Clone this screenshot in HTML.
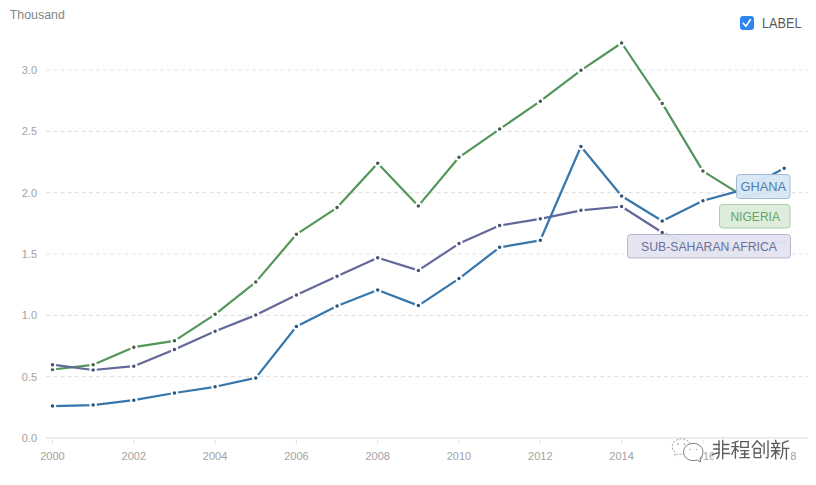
<!DOCTYPE html>
<html><head><meta charset="utf-8"><style>
html,body{margin:0;padding:0;background:#fff;width:816px;height:485px;overflow:hidden}
svg{display:block}
text{font-family:"Liberation Sans",sans-serif}
.tk{font-size:11px;fill:#a6a6a6;stroke:#a6a6a6;stroke-width:0.08px}
</style></head><body>
<svg width="816" height="485" viewBox="0 0 816 485">
<rect width="816" height="485" fill="#fff"/>
<text x="9.8" y="19.3" textLength="55" lengthAdjust="spacingAndGlyphs" style="font-size:12.3px;fill:#858585">Thousand</text>
<line x1="46" y1="376.67" x2="808" y2="376.67" stroke="#e2e2e2" stroke-width="1.2" stroke-dasharray="3.8,3.3" stroke-dashoffset="-0.3"/>
<line x1="46" y1="315.33" x2="808" y2="315.33" stroke="#e2e2e2" stroke-width="1.2" stroke-dasharray="3.8,3.3" stroke-dashoffset="-0.3"/>
<line x1="46" y1="254.00" x2="808" y2="254.00" stroke="#e2e2e2" stroke-width="1.2" stroke-dasharray="3.8,3.3" stroke-dashoffset="-0.3"/>
<line x1="46" y1="192.66" x2="808" y2="192.66" stroke="#e2e2e2" stroke-width="1.2" stroke-dasharray="3.8,3.3" stroke-dashoffset="-0.3"/>
<line x1="46" y1="131.32" x2="808" y2="131.32" stroke="#e2e2e2" stroke-width="1.2" stroke-dasharray="3.8,3.3" stroke-dashoffset="-0.3"/>
<line x1="46" y1="69.99" x2="808" y2="69.99" stroke="#e2e2e2" stroke-width="1.2" stroke-dasharray="3.8,3.3" stroke-dashoffset="-0.3"/>

<line x1="46" y1="437.9" x2="808" y2="437.9" stroke="#ebebeb" stroke-width="1.9"/>
<text x="37" y="442.00" text-anchor="end" class="tk">0.0</text>
<text x="37" y="380.67" text-anchor="end" class="tk">0.5</text>
<text x="37" y="319.33" text-anchor="end" class="tk">1.0</text>
<text x="37" y="258.00" text-anchor="end" class="tk">1.5</text>
<text x="37" y="196.66" text-anchor="end" class="tk">2.0</text>
<text x="37" y="135.32" text-anchor="end" class="tk">2.5</text>
<text x="37" y="73.99" text-anchor="end" class="tk">3.0</text>

<line x1="52.50" y1="440" x2="52.50" y2="444" stroke="#e0e0e0" stroke-width="1"/>
<text x="52.50" y="460.3" text-anchor="middle" class="tk">2000</text>
<line x1="133.80" y1="440" x2="133.80" y2="444" stroke="#e0e0e0" stroke-width="1"/>
<text x="133.80" y="460.3" text-anchor="middle" class="tk">2002</text>
<line x1="215.10" y1="440" x2="215.10" y2="444" stroke="#e0e0e0" stroke-width="1"/>
<text x="215.10" y="460.3" text-anchor="middle" class="tk">2004</text>
<line x1="296.40" y1="440" x2="296.40" y2="444" stroke="#e0e0e0" stroke-width="1"/>
<text x="296.40" y="460.3" text-anchor="middle" class="tk">2006</text>
<line x1="377.70" y1="440" x2="377.70" y2="444" stroke="#e0e0e0" stroke-width="1"/>
<text x="377.70" y="460.3" text-anchor="middle" class="tk">2008</text>
<line x1="459.00" y1="440" x2="459.00" y2="444" stroke="#e0e0e0" stroke-width="1"/>
<text x="459.00" y="460.3" text-anchor="middle" class="tk">2010</text>
<line x1="540.30" y1="440" x2="540.30" y2="444" stroke="#e0e0e0" stroke-width="1"/>
<text x="540.30" y="460.3" text-anchor="middle" class="tk">2012</text>
<line x1="621.60" y1="440" x2="621.60" y2="444" stroke="#e0e0e0" stroke-width="1"/>
<text x="621.60" y="460.3" text-anchor="middle" class="tk">2014</text>
<line x1="702.90" y1="440" x2="702.90" y2="444" stroke="#e0e0e0" stroke-width="1"/>
<text x="702.90" y="460.3" text-anchor="middle" class="tk">2016</text>
<line x1="784.20" y1="440" x2="784.20" y2="444" stroke="#e0e0e0" stroke-width="1"/>
<text x="784.20" y="460.3" text-anchor="middle" class="tk">2018</text>

<polyline points="52.50,369.50 93.15,364.80 133.80,347.20 174.45,340.80 215.10,314.30 255.75,282.10 296.40,234.30 337.05,207.60 377.70,163.30 418.35,205.90 459.00,157.30 499.65,129.10 540.30,101.20 580.95,70.30 621.60,43.00 662.25,103.40 702.90,171.10 743.55,196.40 784.20,189.00" fill="none" stroke="#52965a" stroke-width="2.2" stroke-linejoin="round" stroke-linecap="round"/>
<circle cx="52.50" cy="369.50" r="2.75" fill="#4a5a4c" stroke="#fff" stroke-width="2.0"/><circle cx="93.15" cy="364.80" r="2.75" fill="#4a5a4c" stroke="#fff" stroke-width="2.0"/><circle cx="133.80" cy="347.20" r="2.75" fill="#4a5a4c" stroke="#fff" stroke-width="2.0"/><circle cx="174.45" cy="340.80" r="2.75" fill="#4a5a4c" stroke="#fff" stroke-width="2.0"/><circle cx="215.10" cy="314.30" r="2.75" fill="#4a5a4c" stroke="#fff" stroke-width="2.0"/><circle cx="255.75" cy="282.10" r="2.75" fill="#4a5a4c" stroke="#fff" stroke-width="2.0"/><circle cx="296.40" cy="234.30" r="2.75" fill="#4a5a4c" stroke="#fff" stroke-width="2.0"/><circle cx="337.05" cy="207.60" r="2.75" fill="#4a5a4c" stroke="#fff" stroke-width="2.0"/><circle cx="377.70" cy="163.30" r="2.75" fill="#4a5a4c" stroke="#fff" stroke-width="2.0"/><circle cx="418.35" cy="205.90" r="2.75" fill="#4a5a4c" stroke="#fff" stroke-width="2.0"/><circle cx="459.00" cy="157.30" r="2.75" fill="#4a5a4c" stroke="#fff" stroke-width="2.0"/><circle cx="499.65" cy="129.10" r="2.75" fill="#4a5a4c" stroke="#fff" stroke-width="2.0"/><circle cx="540.30" cy="101.20" r="2.75" fill="#4a5a4c" stroke="#fff" stroke-width="2.0"/><circle cx="580.95" cy="70.30" r="2.75" fill="#4a5a4c" stroke="#fff" stroke-width="2.0"/><circle cx="621.60" cy="43.00" r="2.75" fill="#4a5a4c" stroke="#fff" stroke-width="2.0"/><circle cx="662.25" cy="103.40" r="2.75" fill="#4a5a4c" stroke="#fff" stroke-width="2.0"/><circle cx="702.90" cy="171.10" r="2.75" fill="#4a5a4c" stroke="#fff" stroke-width="2.0"/><circle cx="743.55" cy="196.40" r="2.75" fill="#4a5a4c" stroke="#fff" stroke-width="2.0"/><circle cx="784.20" cy="189.00" r="2.75" fill="#4a5a4c" stroke="#fff" stroke-width="2.0"/>

<polyline points="52.50,364.70 93.15,370.00 133.80,366.20 174.45,349.40 215.10,331.20 255.75,315.10 296.40,295.10 337.05,276.30 377.70,257.80 418.35,270.40 459.00,243.60 499.65,225.50 540.30,218.80 580.95,210.30 621.60,206.50 662.25,232.50 702.90,251.50 743.55,246.50 784.20,242.00" fill="none" stroke="#62699a" stroke-width="2.2" stroke-linejoin="round" stroke-linecap="round"/>
<circle cx="52.50" cy="364.70" r="2.75" fill="#4a5072" stroke="#fff" stroke-width="2.0"/><circle cx="93.15" cy="370.00" r="2.75" fill="#4a5072" stroke="#fff" stroke-width="2.0"/><circle cx="133.80" cy="366.20" r="2.75" fill="#4a5072" stroke="#fff" stroke-width="2.0"/><circle cx="174.45" cy="349.40" r="2.75" fill="#4a5072" stroke="#fff" stroke-width="2.0"/><circle cx="215.10" cy="331.20" r="2.75" fill="#4a5072" stroke="#fff" stroke-width="2.0"/><circle cx="255.75" cy="315.10" r="2.75" fill="#4a5072" stroke="#fff" stroke-width="2.0"/><circle cx="296.40" cy="295.10" r="2.75" fill="#4a5072" stroke="#fff" stroke-width="2.0"/><circle cx="337.05" cy="276.30" r="2.75" fill="#4a5072" stroke="#fff" stroke-width="2.0"/><circle cx="377.70" cy="257.80" r="2.75" fill="#4a5072" stroke="#fff" stroke-width="2.0"/><circle cx="418.35" cy="270.40" r="2.75" fill="#4a5072" stroke="#fff" stroke-width="2.0"/><circle cx="459.00" cy="243.60" r="2.75" fill="#4a5072" stroke="#fff" stroke-width="2.0"/><circle cx="499.65" cy="225.50" r="2.75" fill="#4a5072" stroke="#fff" stroke-width="2.0"/><circle cx="540.30" cy="218.80" r="2.75" fill="#4a5072" stroke="#fff" stroke-width="2.0"/><circle cx="580.95" cy="210.30" r="2.75" fill="#4a5072" stroke="#fff" stroke-width="2.0"/><circle cx="621.60" cy="206.50" r="2.75" fill="#4a5072" stroke="#fff" stroke-width="2.0"/><circle cx="662.25" cy="232.50" r="2.75" fill="#4a5072" stroke="#fff" stroke-width="2.0"/><circle cx="702.90" cy="251.50" r="2.75" fill="#4a5072" stroke="#fff" stroke-width="2.0"/><circle cx="743.55" cy="246.50" r="2.75" fill="#4a5072" stroke="#fff" stroke-width="2.0"/><circle cx="784.20" cy="242.00" r="2.75" fill="#4a5072" stroke="#fff" stroke-width="2.0"/>

<polyline points="52.50,406.10 93.15,405.10 133.80,400.20 174.45,393.00 215.10,386.80 255.75,377.90 296.40,326.50 337.05,306.10 377.70,290.00 418.35,305.60 459.00,278.60 499.65,247.30 540.30,240.30 580.95,146.50 621.60,196.00 662.25,221.00 702.90,200.80 743.55,189.60 784.20,168.20" fill="none" stroke="#3676ab" stroke-width="2.2" stroke-linejoin="round" stroke-linecap="round"/>
<circle cx="52.50" cy="406.10" r="2.75" fill="#2a5578" stroke="#fff" stroke-width="2.0"/><circle cx="93.15" cy="405.10" r="2.75" fill="#2a5578" stroke="#fff" stroke-width="2.0"/><circle cx="133.80" cy="400.20" r="2.75" fill="#2a5578" stroke="#fff" stroke-width="2.0"/><circle cx="174.45" cy="393.00" r="2.75" fill="#2a5578" stroke="#fff" stroke-width="2.0"/><circle cx="215.10" cy="386.80" r="2.75" fill="#2a5578" stroke="#fff" stroke-width="2.0"/><circle cx="255.75" cy="377.90" r="2.75" fill="#2a5578" stroke="#fff" stroke-width="2.0"/><circle cx="296.40" cy="326.50" r="2.75" fill="#2a5578" stroke="#fff" stroke-width="2.0"/><circle cx="337.05" cy="306.10" r="2.75" fill="#2a5578" stroke="#fff" stroke-width="2.0"/><circle cx="377.70" cy="290.00" r="2.75" fill="#2a5578" stroke="#fff" stroke-width="2.0"/><circle cx="418.35" cy="305.60" r="2.75" fill="#2a5578" stroke="#fff" stroke-width="2.0"/><circle cx="459.00" cy="278.60" r="2.75" fill="#2a5578" stroke="#fff" stroke-width="2.0"/><circle cx="499.65" cy="247.30" r="2.75" fill="#2a5578" stroke="#fff" stroke-width="2.0"/><circle cx="540.30" cy="240.30" r="2.75" fill="#2a5578" stroke="#fff" stroke-width="2.0"/><circle cx="580.95" cy="146.50" r="2.75" fill="#2a5578" stroke="#fff" stroke-width="2.0"/><circle cx="621.60" cy="196.00" r="2.75" fill="#2a5578" stroke="#fff" stroke-width="2.0"/><circle cx="662.25" cy="221.00" r="2.75" fill="#2a5578" stroke="#fff" stroke-width="2.0"/><circle cx="702.90" cy="200.80" r="2.75" fill="#2a5578" stroke="#fff" stroke-width="2.0"/><circle cx="743.55" cy="189.60" r="2.75" fill="#2a5578" stroke="#fff" stroke-width="2.0"/><circle cx="784.20" cy="168.20" r="2.75" fill="#2a5578" stroke="#fff" stroke-width="2.0"/>

<!-- labels -->
<rect x="736.5" y="174.5" width="53.5" height="24" rx="3" fill="#d8e6f3" fill-opacity="0.95" stroke="#a2bdd6" stroke-width="1"/>
<text x="740.5" y="191" textLength="45.5" lengthAdjust="spacingAndGlyphs" style="font-size:12.5px;fill:#4c80b0">GHANA</text>
<rect x="719.5" y="204.5" width="70.5" height="23.5" rx="3" fill="#dcebd9" fill-opacity="0.95" stroke="#acccab" stroke-width="1"/>
<text x="730.4" y="221" textLength="49.6" lengthAdjust="spacingAndGlyphs" style="font-size:12.5px;fill:#68a468">NIGERIA</text>
<rect x="627.5" y="234.5" width="163" height="23.5" rx="3" fill="#e3e4f0" fill-opacity="0.95" stroke="#b4b7cf" stroke-width="1"/>
<text x="641" y="251" textLength="136" lengthAdjust="spacingAndGlyphs" style="font-size:12.5px;fill:#69719c">SUB-SAHARAN AFRICA</text>
<!-- watermark -->
<g>
<path d="M681.5 438.8 C676.2 438.8 672.2 442.3 672.2 446.6 C672.2 449 673.4 451.1 675.4 452.5 L674.6 455.6 L678.2 453.7 C679.2 454 680.3 454.2 681.5 454.2 C686.8 454.2 690.8 450.8 690.8 446.6 C690.8 442.3 686.8 438.8 681.5 438.8 Z" fill="#fff" stroke="#9a9a9a" stroke-width="0.9" stroke-dasharray="2.2,1.4"/>
<circle cx="678" cy="444.2" r="0.9" fill="#b0b0b0"/><circle cx="684.5" cy="444.2" r="0.9" fill="#b0b0b0"/>
<path d="M693.2 443.4 C687.6 443.4 683.6 447.2 683.6 452 C683.6 456.8 687.6 460.6 693.2 460.6 C694.5 460.6 695.8 460.4 697 460 L700.6 461.9 L699.9 458.2 C701.9 456.6 702.9 454.4 702.9 452 C702.9 447.2 698.8 443.4 693.2 443.4 Z" fill="#fff" stroke="#707070" stroke-width="0.9"/>
<circle cx="690" cy="449.5" r="0.8" fill="#b0b0b0"/><circle cx="696.5" cy="449.5" r="0.8" fill="#b0b0b0"/>
</g>
<rect x="713.5" y="441" width="77" height="21" fill="#fff"/>
<g fill="none" stroke="#5c5c5c" stroke-width="1.35" stroke-linecap="square">
<!-- fei -->
<g transform="translate(711.5,439.5)">
<path d="M7.5 1.5 V14.5 Q7.5 17.5 5.5 19"/>
<path d="M11.2 1 V19"/>
<path d="M2 5 H7.5 M2.5 9.5 H7.5 M1 15 L7.5 13.2"/>
<path d="M11.2 5 H17.2 M11.2 9.5 H16.8 M11.2 14 H18"/>
</g>
<!-- cheng -->
<g transform="translate(731,439.8)">
<path d="M1.5 3 L6.8 1.6 M0.8 6.8 H7.8 M4.4 2.5 V18.2 M4.2 8 L0.8 14.5 M4.8 8.8 L7.2 11.5"/>
<path d="M9.8 1.8 H17.2 V7.6 H9.8 Z"/>
<path d="M9.8 10.8 H17.5 M10.6 14.2 H17 M9 17.8 H18.2 M13.7 10.8 V17.8"/>
</g>
<!-- chuang -->
<g transform="translate(751.5,440)">
<path d="M5.5 0.8 L0.8 7 M5.5 0.8 L10.5 6"/>
<path d="M2.6 8.5 H8.8 V13 H2.6 M2.6 8.5 V16.8 Q2.6 17.6 3.6 17.6 H9.2 V15.2"/>
<path d="M12.6 3.5 V13.6 M16.5 0.8 V17 Q16.5 18.2 14.8 17.6"/>
</g>
<!-- xin -->
<g transform="translate(770.8,439.8)">
<path d="M4.8 0.6 L5.3 2.6 M1 3.6 H8.8 M2.8 4.8 L3.5 7 M7 4.8 L6.3 7 M0.8 7.8 H9 M0.8 11 H9 M4.8 7.8 V19 M4.6 12 L0.8 16.8 M5.2 12 L8.2 14.8"/>
<path d="M17.2 1 L11.8 3.2 V11.5 Q11.8 16 9.8 18.5 M11.8 8.6 H17.8 M15.6 8.6 V19.2"/>
</g>
</g>
<!-- legend -->
<rect x="740" y="16" width="14" height="14" rx="3" fill="#2f86ee"/>
<path d="M743.2 23.3 L745.9 26.2 L750.4 19.6" fill="none" stroke="#fff" stroke-width="1.65" stroke-linecap="round" stroke-linejoin="round"/>
<text x="762" y="27.7" textLength="39.5" lengthAdjust="spacingAndGlyphs" style="font-size:14px;fill:#5a5a5a">LABEL</text>
</svg>
</body></html>
